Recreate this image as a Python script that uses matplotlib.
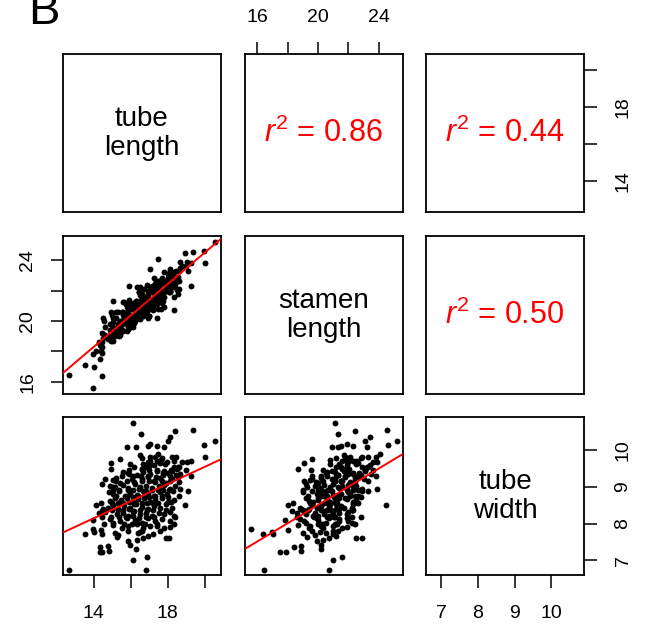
import matplotlib
matplotlib.use('Agg')
import matplotlib.pyplot as plt
import numpy as np

plt.rcParams['font.family'] = ['Liberation Sans', 'DejaVu Sans']
plt.rcParams['mathtext.fontset'] = 'custom'
plt.rcParams['mathtext.rm'] = 'Liberation Sans'
plt.rcParams['mathtext.it'] = 'Liberation Sans:italic'

tube_length = [
    16.11, 16.56, 18.42, 19.36, 18.15, 20.55, 19.96, 20.0, 18.02, 17.78, 15.78, 16.29,
    16.91, 17.05, 17.42, 12.64, 16.85, 16.11, 16.87, 16.29, 14.33, 14.45, 14.84, 14.33,
    14.78, 13.53, 13.96, 14.02, 14.38, 14.45, 15.15, 15.27, 15.33, 15.87, 15.96, 16.38,
    16.6, 16.65, 16.91, 17.93, 18.05, 18.91, 19.09, 19.05, 18.6, 13.96, 14.11, 14.29,
    14.47, 14.47, 14.96, 15.42, 14.96,
    16.51, 16.6, 17.05, 17.33, 17.69, 18.24, 18.47, 17.42,
    15.96, 16.18, 16.69, 16.96, 17.24, 17.6, 17.87, 18.33, 18.55, 16.6, 16.84,
    15.6, 15.87, 16.33, 16.69, 17.05, 17.42, 17.75, 18.0, 18.24, 18.47, 18.69,
    14.6, 15.02, 15.2, 15.42, 16.05, 16.6, 16.91, 17.27, 17.6, 17.93, 18.24, 18.55,
    14.87, 15.15, 15.6, 15.87, 16.24, 16.51, 16.84, 17.15, 17.51, 17.78, 18.15, 18.42,
    14.84, 15.05, 15.38, 15.69, 15.96, 16.33, 16.65, 16.91, 17.24, 17.6, 17.96, 18.29, 18.6,
    14.87, 15.15, 15.45, 15.78, 16.11, 16.42, 16.73, 17.02, 17.33, 17.69, 18.0, 18.33,
    14.51, 14.78, 15.05, 15.33, 15.64, 15.96, 16.29, 16.6, 16.91, 17.27, 17.6, 17.93, 18.24,
    14.6, 15.24, 15.56, 15.87, 16.15, 16.51, 16.84, 17.15, 17.51, 17.82, 18.15,
    14.87, 15.42, 15.78, 16.24, 16.6, 16.96, 17.33, 17.69, 18.15, 18.42,
    15.05, 15.51, 15.87, 16.33, 16.69, 17.05, 17.42, 17.78, 18.15, 18.33,
    15.87, 16.51, 17.2, 17.6, 16.33,
    # dense core, cloud tilts up to the right
    17.05, 17.65, 17.95, 18.35, 18.75, 19.25,
    15.9, 16.6, 17.0, 17.4, 17.8, 18.2, 18.5, 19.0,
    15.55, 16.15, 16.55, 16.95, 17.35, 17.75, 18.15, 18.55, 19.25,
    15.2, 15.8, 16.2, 16.6, 17.0, 17.3, 17.7, 18.1, 18.6,
    15.05, 15.35, 15.85, 16.15, 16.45, 16.85, 17.15, 17.45, 17.75, 18.05, 18.65,
    15.2, 15.8, 16.1, 16.4, 16.7, 17.0, 17.3, 17.7, 18.0,
    14.4, 15.0, 15.3, 15.6, 15.9, 16.2, 16.6, 16.9, 17.2, 17.5, 18.2,
    14.5, 15.0, 15.3, 15.6, 15.9, 16.2, 16.5, 16.9, 17.2, 17.9,
    14.45, 14.95, 15.35, 15.75, 16.15, 16.45, 16.85, 17.25,
    14.55, 15.05, 15.65, 16.05, 16.35, 16.75,
    15.93, 15.05, 18.33, 17.42, 17.5, 17.05,
]
stamen_length = [
    21.1, 21.3, 22.4, 24.55, 23.4, 25.2, 24.6, 23.8, 23.1, 23.2, 20.9, 21.3,
    21.5, 21.9, 22.3, 16.44, 20.7, 21.0, 21.6, 20.2, 17.5, 17.9, 18.9, 18.4,
    18.9, 17.07, 15.58, 17.0, 18.0, 16.4, 19.0, 19.3, 19.8, 19.9, 20.2, 20.5,
    21.0, 20.7, 21.2, 22.5, 22.9, 24.5, 23.3, 23.9, 23.3, 17.8, 18.0, 18.6,
    18.3, 19.2, 19.1, 19.6, 18.7,
    21.7, 21.2, 22.1, 21.8, 22.8, 22.9, 23.3, 22.5,
    20.8, 21.2, 21.4, 22.0, 21.9, 22.6, 22.5, 23.2, 22.9, 21.6, 21.5,
    20.6, 20.5, 21.3, 21.1, 22.0, 21.7, 22.7, 22.3, 23.1, 22.8, 23.5,
    19.6, 19.5, 20.2, 20.0, 21.1, 20.9, 21.8, 21.6, 22.4, 22.2, 23.0, 22.7,
    19.8, 19.3, 20.4, 20.1, 21.0, 20.8, 21.6, 21.4, 22.3, 22.0, 22.9, 22.5,
    19.0, 19.9, 19.6, 20.4, 20.2, 21.0, 20.9, 21.5, 21.3, 22.0, 22.1, 22.9, 22.6,
    19.4, 19.2, 20.0, 20.0, 20.8, 20.6, 21.4, 21.1, 21.9, 21.8, 22.3, 22.5,
    18.9, 18.8, 19.6, 19.4, 20.2, 19.9, 20.8, 20.7, 21.2, 21.5, 21.7, 22.3, 22.2,
    19.1, 19.2, 19.8, 19.7, 20.4, 20.4, 21.0, 20.9, 21.4, 21.9, 22.0,
    18.8, 19.1, 19.9, 20.0, 20.5, 20.7, 21.4, 21.4, 22.0, 22.2,
    18.7, 19.4, 19.5, 20.2, 20.3, 21.0, 21.1, 21.6, 21.9, 22.4,
    19.6, 20.1, 21.0, 21.3, 20.3,
    21.9, 20.8, 22.55, 21.6, 23.6, 22.3,
    19.55, 21.8, 20.3, 22.0, 20.9, 23.1, 22.05, 23.6,
    20.6, 19.6, 21.2, 20.2, 22.55, 21.3, 22.6, 21.8, 23.8,
    19.1, 21.1, 19.85, 21.5, 20.3, 22.4, 21.5, 23.3, 22.1,
    20.2, 19.0, 20.65, 20.0, 21.9, 20.5, 22.3, 20.8, 22.6, 21.9, 23.85,
    20.6, 19.35, 21.1, 20.2, 22.1, 21.05, 22.45, 21.2, 22.8,
    18.35, 20.4, 19.5, 21.25, 19.65, 21.2, 20.6, 22.35, 20.75, 22.6, 22.4,
    20.2, 19.0, 20.6, 19.35, 21.4, 20.4, 22.2, 20.85, 22.2, 22.3,
    18.6, 20.6, 19.75, 21.1, 20.0, 21.9, 21.05, 22.8,
    20.0, 19.2, 21.25, 20.3, 22.2, 21.15,
    22.3, 21.3, 20.75, 20.2, 24.1, 23.4,
]
tube_width = [
    10.73, 10.44, 10.51, 10.55, 10.37, 10.24, 10.14, 9.81, 10.26, 10.10, 10.10, 10.10,
    10.12, 10.17, 10.12, 6.75, 6.75, 7.01, 7.10, 7.30, 7.23, 7.23, 7.25, 7.36,
    7.39, 7.71, 7.85, 7.78, 7.82, 7.71, 7.76, 7.64, 7.69, 7.53, 7.42, 7.76,
    7.80, 7.60, 7.66, 7.62, 7.62, 8.51, 8.89, 9.69, 9.55, 8.09, 8.51, 8.28,
    8.35, 9.09, 9.64, 9.76, 9.49,
    9.88, 9.79, 9.82, 9.81, 9.79, 9.81, 9.81, 9.71,
    9.62, 9.55, 9.62, 9.67, 9.60, 9.64, 9.62, 9.55, 9.53, 9.49, 9.53,
    9.42, 9.37, 9.33, 9.40, 9.35, 9.44, 9.37, 9.39, 9.44, 9.33, 9.35,
    9.21, 9.19, 9.24, 9.12, 9.21, 9.21, 9.26, 9.17, 9.24, 9.12, 9.21, 9.26,
    9.03, 8.99, 9.06, 8.97, 9.08, 9.00, 9.03, 8.97, 9.03, 9.06, 8.94, 9.03,
    8.85, 8.80, 8.88, 8.76, 8.82, 8.79, 8.88, 8.80, 8.76, 8.85, 8.80, 8.88, 8.76,
    8.62, 8.69, 8.64, 8.71, 8.60, 8.67, 8.71, 8.60, 8.67, 8.71, 8.60, 8.64,
    8.39, 8.44, 8.51, 8.39, 8.48, 8.42, 8.53, 8.46, 8.39, 8.48, 8.42, 8.53, 8.44,
    8.33, 8.26, 8.30, 8.21, 8.33, 8.26, 8.30, 8.21, 8.30, 8.26, 8.33,
    8.12, 8.06, 8.15, 8.09, 8.03, 8.15, 8.07, 8.12, 8.06, 8.17,
    7.97, 7.89, 7.94, 7.98, 7.87, 7.94, 7.98, 7.89, 7.91, 7.98,
    7.80, 7.78, 7.73, 7.80, 7.57,
    9.70, 9.72, 9.68, 9.71, 9.69, 9.70,
    9.46, 9.48, 9.45, 9.47, 9.44, 9.46, 9.48, 9.45,
    9.30, 9.29, 9.31, 9.30, 9.28, 9.32, 9.30, 9.29, 9.31,
    9.15, 9.16, 9.14, 9.15, 9.17, 9.13, 9.15, 9.16, 9.14,
    8.92, 8.93, 8.91, 8.92, 8.94, 8.90, 8.92, 8.93, 8.91, 8.92, 8.94,
    8.74, 8.75, 8.73, 8.74, 8.76, 8.72, 8.74, 8.75, 8.73,
    8.56, 8.57, 8.55, 8.56, 8.58, 8.54, 8.56, 8.57, 8.55, 8.56, 8.58,
    8.37, 8.38, 8.36, 8.37, 8.39, 8.35, 8.37, 8.38, 8.36, 8.37,
    8.18, 8.19, 8.17, 8.18, 8.20, 8.16, 8.18, 8.19,
    8.00, 8.01, 7.99, 8.00, 8.02, 7.98,
    9.35, 9.00, 8.20, 7.95, 9.90, 9.60,
]

var_names = ['tube\nlength', 'stamen\nlength', 'tube\nwidth']
r2_labels = {(0, 1): '0.86', (0, 2): '0.44', (1, 2): '0.50'}

# ticks per variable, and which of them get a label
ticks = [[14, 16, 18, 20], [16, 18, 20, 22, 24], [7, 8, 9, 10]]
tick_labels = [['14', '', '18', ''], ['16', '', '20', '', '24'], ['7', '8', '9', '10']]

data = [np.array(tube_length), np.array(stamen_length), np.array(tube_width)]
lims = []
for d in data:
    span = d.max() - d.min()
    lims.append((d.min() - 0.04 * span, d.max() + 0.04 * span))

fig = plt.figure(figsize=(6.45, 6.28), dpi=100)

lefts = [0.0972, 0.3798, 0.6605]
bottoms = [0.6624, 0.3726, 0.0836]
w, h = 0.2450, 0.2516

axes = [[None] * 3 for _ in range(3)]
for i in range(3):
    for j in range(3):
        ax = fig.add_axes([lefts[j], bottoms[i], w, h])
        axes[i][j] = ax
        ax.set_xlim(lims[j])
        ax.set_ylim(lims[i])
        ax.set_xticks([])
        ax.set_yticks([])
        for sp in ax.spines.values():
            sp.set_linewidth(1.3)

        if i == j:
            ax.text(0.5, 0.5, var_names[i], transform=ax.transAxes, ha='center',
                    va='center', fontsize=20, linespacing=1.15)
        elif i < j:
            ax.text(0.5, 0.5, r'$r^2$ = ' + r2_labels[(i, j)], transform=ax.transAxes,
                    ha='center', va='center', fontsize=22, color='red')
        else:
            x, y = data[j], data[i]
            ax.scatter(x, y, s=18, color='black', linewidths=0, zorder=2)
            b, a = np.polyfit(x, y, 1)
            ax.axline((0, a), slope=b, color='red', linewidth=1.4, zorder=3)

tick_kw = dict(direction='out', length=9, width=1.1, labelsize=14)

# top axis, stamen length
ax = axes[0][1]
ax.xaxis.tick_top()
ax.set_xticks(ticks[1], tick_labels[1])
ax.tick_params(axis='x', pad=11, **tick_kw)

# right axis, tube length
ax = axes[0][2]
ax.yaxis.tick_right()
ax.set_yticks(ticks[0], tick_labels[0], rotation=90, va='center')
ax.tick_params(axis='y', pad=13, **tick_kw)

# left axis, stamen length
ax = axes[1][0]
ax.set_yticks(ticks[1], tick_labels[1], rotation=90, va='center')
ax.tick_params(axis='y', pad=10, **tick_kw)

# bottom axis, tube length
ax = axes[2][0]
ax.set_xticks(ticks[0], tick_labels[0])
ax.tick_params(axis='x', pad=12, **tick_kw)

# bottom and right axes, tube width
ax = axes[2][2]
ax.set_xticks(ticks[2], tick_labels[2])
ax.tick_params(axis='x', pad=12, **tick_kw)
ax.yaxis.tick_right()
ax.set_yticks(ticks[2], tick_labels[2], rotation=90, va='center')
ax.tick_params(axis='y', pad=13, **tick_kw)

fig.text(0.043, 0.962, 'B', fontsize=34, va='baseline', ha='left')

fig.savefig('out.png', dpi=100)
